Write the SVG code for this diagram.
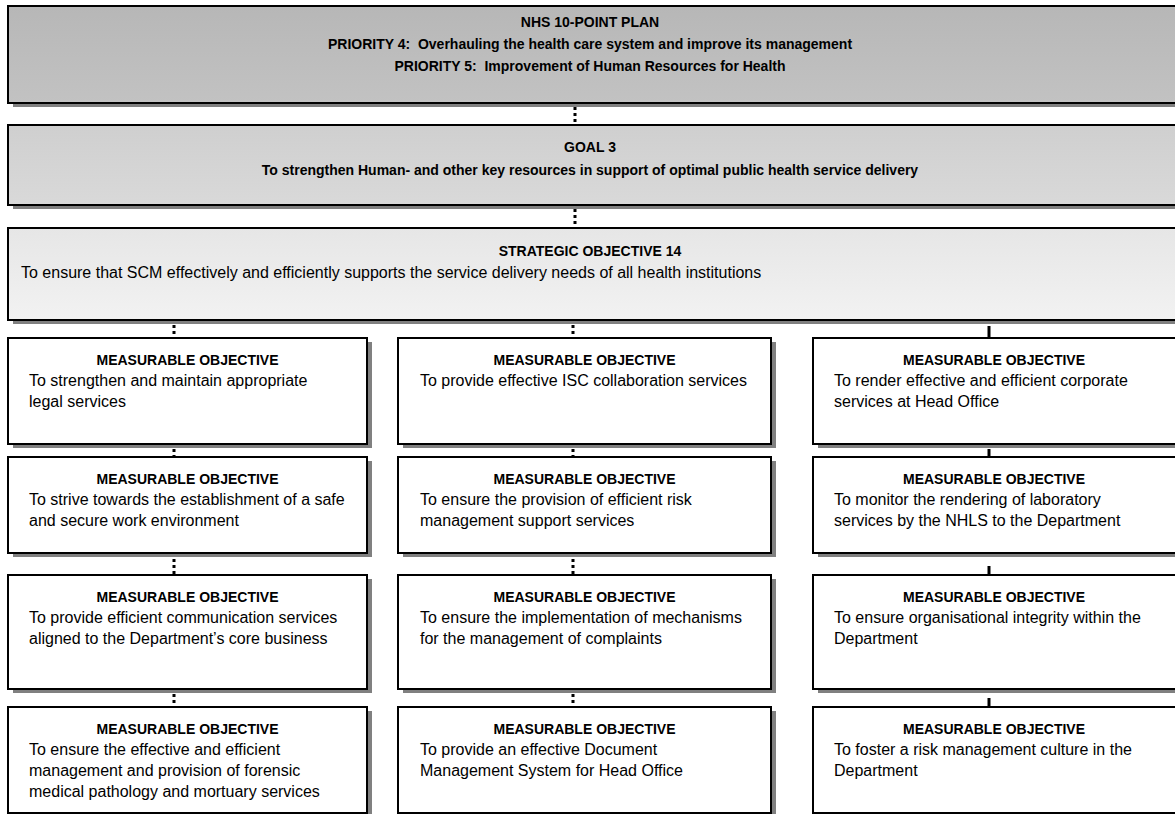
<svg xmlns="http://www.w3.org/2000/svg" width="1175" height="814" viewBox="0 0 1175 814">
<style>
.sh{fill:#808080;}
.box{stroke:#000;stroke-width:2;}
.mo{fill:#fff;}
.hd{font-family:"Liberation Sans",Arial,sans-serif;font-weight:bold;font-size:14px;fill:#000;text-anchor:middle;}
.bd{font-family:"Liberation Sans",Arial,sans-serif;font-size:16px;fill:#000;}
.dot{stroke:#000;stroke-width:3;stroke-dasharray:3 3;fill:none;}
.sol{stroke:#000;stroke-width:3;fill:none;}
</style>
<defs>
<linearGradient id="g1" x1="0" y1="0" x2="0" y2="1"><stop offset="0" stop-color="#b7b7b7"/><stop offset="1" stop-color="#c2c2c2"/></linearGradient>
<linearGradient id="g2" x1="0" y1="0" x2="0" y2="1"><stop offset="0" stop-color="#cfcfcf"/><stop offset="1" stop-color="#d9d9d9"/></linearGradient>
<linearGradient id="g3" x1="0" y1="0" x2="0" y2="1"><stop offset="0" stop-color="#e6e6e6"/><stop offset="1" stop-color="#f2f2f2"/></linearGradient>
</defs>
<rect width="1175" height="814" fill="#fff"/>

<g id="connectors">
<line class="dot" x1="575" y1="107" x2="575" y2="125"/>
<line class="dot" x1="575" y1="209" x2="575" y2="227"/>
<line class="dot" x1="174" y1="325" x2="174" y2="338"/>
<line class="dot" x1="573" y1="325" x2="573" y2="338"/>
<line class="sol" x1="989" y1="326" x2="989" y2="338"/>
<line class="dot" x1="174" y1="449" x2="174" y2="457"/>
<line class="dot" x1="573" y1="449" x2="573" y2="457"/>
<line class="sol" x1="989" y1="449" x2="989" y2="457"/>
<line class="dot" x1="174" y1="559" x2="174" y2="575"/>
<line class="dot" x1="573" y1="559" x2="573" y2="575"/>
<line class="sol" x1="989" y1="566" x2="989" y2="575"/>
<line class="dot" x1="174" y1="694" x2="174" y2="707"/>
<line class="dot" x1="573" y1="694" x2="573" y2="707"/>
<line class="sol" x1="989" y1="698" x2="989" y2="707"/>
</g>

<g id="nhs-plan">
<rect class="sh" x="13" y="10" width="1172" height="97"/>
<rect class="box" x="8" y="6" width="1172" height="97" fill="url(#g1)"/>
<text class="hd" x="590" y="27">NHS 10-POINT PLAN</text>
<text class="hd" x="590" y="49" xml:space="preserve">PRIORITY 4:  Overhauling the health care system and improve its management</text>
<text class="hd" x="590" y="71" xml:space="preserve">PRIORITY 5:  Improvement of Human Resources for Health</text>
</g>

<g id="goal-3">
<rect class="sh" x="13" y="129" width="1172" height="80"/>
<rect class="box" x="8" y="125" width="1172" height="80" fill="url(#g2)"/>
<text class="hd" x="590" y="152">GOAL 3</text>
<text class="hd" x="590" y="175">To strengthen Human- and other key resources in support of optimal public health service delivery</text>
</g>

<g id="strategic-objective-14">
<rect class="sh" x="13" y="232" width="1172" height="92"/>
<rect class="box" x="8" y="228" width="1172" height="92" fill="url(#g3)"/>
<text class="hd" x="590" y="256">STRATEGIC OBJECTIVE 14</text>
<text class="bd" x="21" y="278">To ensure that SCM effectively and efficiently supports the service delivery needs of all health institutions</text>
</g>

<!-- Column 1 -->
<g id="mo-legal">
<rect class="sh" x="13" y="342" width="359" height="106"/>
<rect class="box mo" x="8" y="338" width="359" height="106"/>
<text class="hd" x="187.5" y="365">MEASURABLE OBJECTIVE</text>
<text class="bd" x="29" y="386">To strengthen and maintain appropriate</text>
<text class="bd" x="29" y="407">legal services</text>
</g>
<g id="mo-safe-work">
<rect class="sh" x="13" y="461" width="359" height="96"/>
<rect class="box mo" x="8" y="457" width="359" height="96"/>
<text class="hd" x="187.5" y="484">MEASURABLE OBJECTIVE</text>
<text class="bd" x="29" y="505">To strive towards the establishment of a safe</text>
<text class="bd" x="29" y="526">and secure work environment</text>
</g>
<g id="mo-communication">
<rect class="sh" x="13" y="579" width="359" height="114"/>
<rect class="box mo" x="8" y="575" width="359" height="114"/>
<text class="hd" x="187.5" y="602">MEASURABLE OBJECTIVE</text>
<text class="bd" x="29" y="623">To provide efficient communication services</text>
<text class="bd" x="29" y="644">aligned to the Department’s core business</text>
</g>
<g id="mo-forensic">
<rect class="sh" x="13" y="711" width="359" height="106"/>
<rect class="box mo" x="8" y="707" width="359" height="106"/>
<text class="hd" x="187.5" y="734">MEASURABLE OBJECTIVE</text>
<text class="bd" x="29" y="755">To ensure the effective and efficient</text>
<text class="bd" x="29" y="776">management and provision of forensic</text>
<text class="bd" x="29" y="797">medical pathology and mortuary services</text>
</g>

<!-- Column 2 -->
<g id="mo-isc">
<rect class="sh" x="403" y="342" width="373" height="106"/>
<rect class="box mo" x="398" y="338" width="373" height="106"/>
<text class="hd" x="584.5" y="365">MEASURABLE OBJECTIVE</text>
<text class="bd" x="420" y="386">To provide effective ISC collaboration services</text>
</g>
<g id="mo-risk-support">
<rect class="sh" x="403" y="461" width="373" height="96"/>
<rect class="box mo" x="398" y="457" width="373" height="96"/>
<text class="hd" x="584.5" y="484">MEASURABLE OBJECTIVE</text>
<text class="bd" x="420" y="505">To ensure the provision of efficient risk</text>
<text class="bd" x="420" y="526">management support services</text>
</g>
<g id="mo-complaints">
<rect class="sh" x="403" y="579" width="373" height="114"/>
<rect class="box mo" x="398" y="575" width="373" height="114"/>
<text class="hd" x="584.5" y="602">MEASURABLE OBJECTIVE</text>
<text class="bd" x="420" y="623">To ensure the implementation of mechanisms</text>
<text class="bd" x="420" y="644">for the management of complaints</text>
</g>
<g id="mo-document">
<rect class="sh" x="403" y="711" width="373" height="106"/>
<rect class="box mo" x="398" y="707" width="373" height="106"/>
<text class="hd" x="584.5" y="734">MEASURABLE OBJECTIVE</text>
<text class="bd" x="420" y="755">To provide an effective Document</text>
<text class="bd" x="420" y="776">Management System for Head Office</text>
</g>

<!-- Column 3 -->
<g id="mo-corporate">
<rect class="sh" x="818" y="342" width="367" height="106"/>
<rect class="box mo" x="813" y="338" width="367" height="106"/>
<text class="hd" x="994" y="365">MEASURABLE OBJECTIVE</text>
<text class="bd" x="834" y="386">To render effective and efficient corporate</text>
<text class="bd" x="834" y="407">services at Head Office</text>
</g>
<g id="mo-laboratory">
<rect class="sh" x="818" y="461" width="367" height="96"/>
<rect class="box mo" x="813" y="457" width="367" height="96"/>
<text class="hd" x="994" y="484">MEASURABLE OBJECTIVE</text>
<text class="bd" x="834" y="505">To monitor the rendering of laboratory</text>
<text class="bd" x="834" y="526">services by the NHLS to the Department</text>
</g>
<g id="mo-integrity">
<rect class="sh" x="818" y="579" width="367" height="114"/>
<rect class="box mo" x="813" y="575" width="367" height="114"/>
<text class="hd" x="994" y="602">MEASURABLE OBJECTIVE</text>
<text class="bd" x="834" y="623">To ensure organisational integrity within the</text>
<text class="bd" x="834" y="644">Department</text>
</g>
<g id="mo-risk-culture">
<rect class="sh" x="818" y="711" width="367" height="106"/>
<rect class="box mo" x="813" y="707" width="367" height="106"/>
<text class="hd" x="994" y="734">MEASURABLE OBJECTIVE</text>
<text class="bd" x="834" y="755">To foster a risk management culture in the</text>
<text class="bd" x="834" y="776">Department</text>
</g>
</svg>
